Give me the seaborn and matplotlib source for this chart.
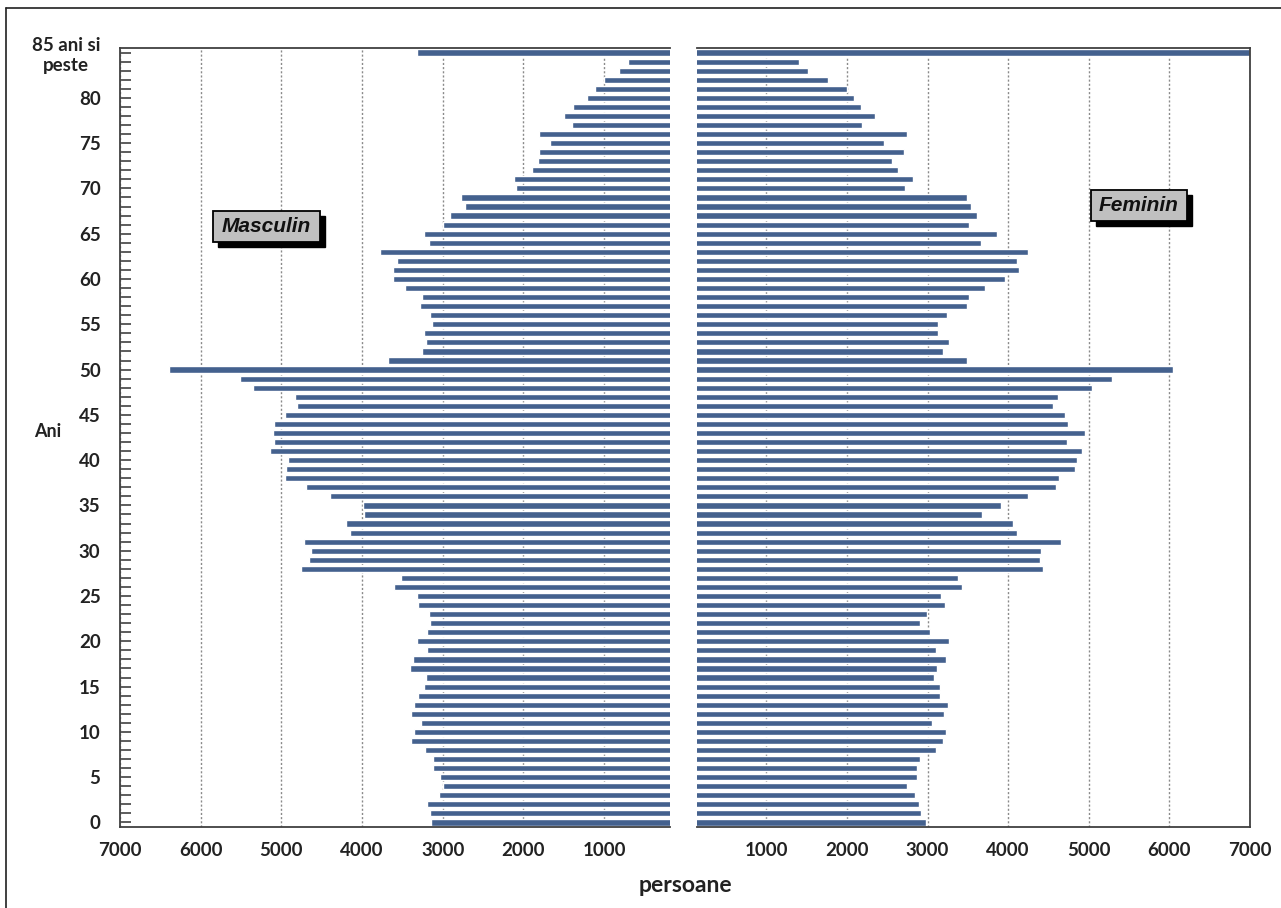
import pandas as pd
import seaborn as sns
import matplotlib.pyplot as plt
from matplotlib.patches import Rectangle
from matplotlib.lines import Line2D
from matplotlib.ticker import MultipleLocator

# Data: population by single year of age (0 .. 85+)
ages = list(range(86))
masculin = [3140, 3160, 3190, 3040, 3000, 3030, 3120, 3120, 3220, 3390,
            3350, 3265, 3390, 3360, 3300, 3230, 3210, 3400, 3370, 3195,
            3320, 3200, 3160, 3170, 3305, 3320, 3600, 3515, 4755, 4655,
            4630, 4720, 4150, 4200, 3970, 3990, 4400, 4690, 4950, 4945,
            4920, 5140, 5090, 5100, 5090, 4950, 4805, 4830, 5355, 5510,
            6390, 3680, 3260, 3210, 3230, 3135, 3155, 3280, 3255, 3465,
            3615, 3615, 3565, 3780, 3175, 3230, 2990, 2905, 2720, 2775,
            2085, 2115, 1890, 1815, 1805, 1665, 1805, 1400, 1495, 1385,
            1205, 1110, 1000, 810, 700, 3320]
feminin = [2975, 2920, 2890, 2845, 2750, 2865, 2865, 2905, 3110, 3190,
           3230, 3055, 3205, 3250, 3150, 3150, 3085, 3115, 3230, 3100,
           3260, 3035, 2910, 2990, 3215, 3165, 3425, 3380, 4430, 4395,
           4410, 4660, 4105, 4065, 3670, 3905, 4250, 4590, 4630, 4835,
           4855, 4918, 4727, 4950, 4740, 4705, 4555, 4620, 5045, 5285,
           6040, 3485, 3190, 3270, 3135, 3135, 3240, 3495, 3515, 3715,
           3955, 4130, 4110, 4250, 3665, 3865, 3515, 3610, 3540, 3495,
           2725, 2825, 2630, 2555, 2705, 2465, 2750, 2185, 2345, 2175,
           2090, 2000, 1770, 1520, 1405, 7000]

xticks = [1000, 2000, 3000, 4000, 5000, 6000, 7000]
ytick_vals = list(range(0, 86, 5))
ytick_labels = [str(v) for v in ytick_vals[:-1]] + ['85 ani si\npeste']

df = pd.DataFrame({'age': ages, 'masculin': masculin, 'feminin': feminin})

sns.set_style('white')
plt.rcParams['font.family'] = ['Lato', 'DejaVu Sans']

W, H = 1281, 908
fig = plt.figure(figsize=(W / 100, H / 100), dpi=100)

bar_color = '#385E9A'
spine_color = '#404040'
text_color = '#222222'


def px_axes(x0, y0, x1, y1):
    return fig.add_axes([x0 / W, 1 - y1 / H, (x1 - x0) / W, (y1 - y0) / H])


ax_m = px_axes(120, 48, 670, 827)
ax_f = px_axes(697, 48, 1250, 827)

sns.barplot(data=df, x='masculin', y='age', orient='y', native_scale=True,
            color=bar_color, width=0.68, errorbar=None, ax=ax_m, zorder=2)
sns.barplot(data=df, x='feminin', y='age', orient='y', native_scale=True,
            color=bar_color, width=0.68, errorbar=None, ax=ax_f, zorder=2)

ax_m.set_xlim(7000, 182)
ax_f.set_xlim(140, 7000)

for ax in (ax_m, ax_f):
    ax.set_ylim(-0.5, 85.5)
    ax.set_xlabel('')
    ax.set_ylabel('')
    ax.set_xticks(xticks)
    ax.set_xticklabels([str(v) for v in xticks], fontsize=13.5,
                       fontweight='bold', color=text_color)
    ax.tick_params(axis='x', direction='inout', length=10, width=1.3,
                   color='#202020', pad=6)
    for v in xticks:
        ax.axvline(v, color='#8a8a8a', lw=1, ls=(0, (1.5, 1.5)), zorder=1)
    for side in ax.spines:
        ax.spines[side].set_color(spine_color)
        ax.spines[side].set_linewidth(1.3)

ax_m.spines['right'].set_visible(False)
ax_f.spines['left'].set_visible(False)

# y axis (age) on the left panel only
ax_m.set_yticks(ytick_vals)
ax_m.set_yticklabels(ytick_labels, fontsize=13.5, fontweight='bold',
                     color=text_color, multialignment='center')
ax_m.yaxis.set_minor_locator(MultipleLocator(1))
ax_m.tick_params(axis='y', which='both', direction='in', length=8,
                 width=1.1, color='#303030', pad=14, left=True)
ax_f.set_yticks([])

fig.text(48 / W, 1 - 432 / H, 'Ani', ha='center', va='center',
         fontsize=13, fontweight='bold', color=text_color)
fig.text(685 / W, 1 - 886 / H, 'persoane', ha='center', va='center',
         fontsize=16.5, fontweight='bold', color=text_color)


def label_box(x0, y0, x1, y1, text):
    sh = 5
    fig.add_artist(Rectangle(((x0 + sh) / W, 1 - (y1 + sh) / H),
                             (x1 - x0) / W, (y1 - y0) / H,
                             transform=fig.transFigure, facecolor='black',
                             edgecolor='black', zorder=5))
    fig.add_artist(Rectangle((x0 / W, 1 - y1 / H), (x1 - x0) / W,
                             (y1 - y0) / H, transform=fig.transFigure,
                             facecolor='#C0C0C0', edgecolor='black',
                             lw=1.3, zorder=6))
    fig.text((x0 + x1) / 2 / W, 1 - (y0 + y1) / 2 / H, text,
             ha='center', va='center', fontsize=15, fontweight='bold',
             fontstyle='italic', family=['Liberation Sans', 'DejaVu Sans'],
             color='#111111', zorder=7)


label_box(213, 211, 320, 242, 'Masculin')
label_box(1091, 190, 1187, 221, 'Feminin')

# chart-area frame (left and top edges visible)
fig.add_artist(Line2D([6 / W, 6 / W], [0, 1 - 8 / H], color='#202020',
                      lw=1.2, transform=fig.transFigure))
fig.add_artist(Line2D([6 / W, 1], [1 - 8 / H, 1 - 8 / H], color='#202020',
                      lw=1.2, transform=fig.transFigure))

fig.savefig('out.png', dpi=100)
